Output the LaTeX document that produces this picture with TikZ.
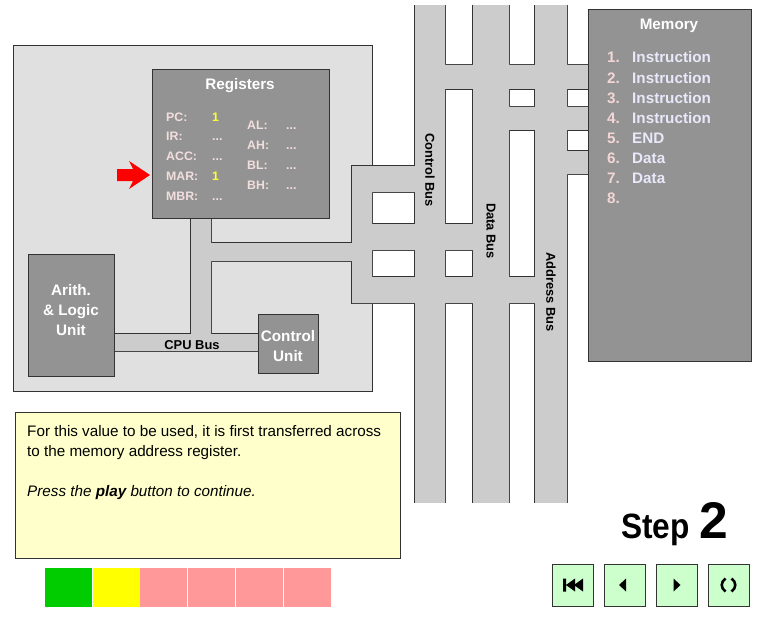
\documentclass[tikz,border=0pt]{standalone}
\usepackage{fontspec}
\setmainfont{Liberation Sans}
\usetikzlibrary{positioning}

\definecolor{cpugray}{HTML}{E0E0E0}
\definecolor{unitgray}{HTML}{939393}
\definecolor{busgray}{HTML}{CCCCCC}
\definecolor{edgegray}{HTML}{333333}
\definecolor{regtext}{HTML}{F2DEDE}
\definecolor{memnum}{HTML}{F4D6D6}
\definecolor{memtext}{HTML}{E8E8FA}
\definecolor{valyellow}{HTML}{FFFF33}
\definecolor{notefill}{HTML}{FFFFCC}
\definecolor{stepgreen}{HTML}{00CC00}
\definecolor{stepyellow}{HTML}{FFFF00}
\definecolor{steppink}{HTML}{FF9999}
\definecolor{btnfill}{HTML}{CCFFCC}

\newcommand\regdots{...}

\begin{document}
\begin{tikzpicture}[
    x=0.03cm, y=-0.03cm,
    unit/.style={draw=edgegray, fill=unitgray, inner sep=0pt},
    unitlabel/.style={text=white, font=\fontsize{13}{17}\selectfont\bfseries, align=center, inner sep=0pt},
    reglabel/.style={text=regtext, font=\fontsize{10.5}{12}\selectfont\bfseries, anchor=base west, inner sep=0pt},
    memlabel/.style={font=\fontsize{13}{15}\selectfont\bfseries, anchor=base west, inner sep=0pt},
    buslabel/.style={font=\fontsize{11}{13}\selectfont\bfseries, inner sep=0pt},
    notetext/.style={font=\fontsize{13}{17}\selectfont, anchor=base west, inner sep=0pt},
    progbox/.style={minimum width=1.41cm, minimum height=1.17cm, inner sep=0pt},
    btn/.style={draw=edgegray, fill=btnfill, minimum width=1.23cm, minimum height=1.26cm, inner sep=0pt}
]

% Page
\fill[white] (0,0) rectangle (763,620);
\useasboundingbox (0,0) rectangle (763,620);

% CPU
\node[draw=edgegray, fill=cpugray, minimum width=10.77cm, minimum height=10.38cm, inner sep=0pt] (cpu) at (192.5,218) {};

% Buses (drawn as one outlined shape)
\begin{scope}
\clip (0,6) rectangle (763,502);
\path[save path=\busunion]
    (415,0) rectangle (445,520)   % control bus
    (473,0) rectangle (509,520)   % data bus
    (535,0) rectangle (567,520)   % address bus
    (445,65) rectangle (590,89)
    (509,107) rectangle (590,130)
    (567,151) rectangle (590,174)
    (352,166) rectangle (372,303)
    (352,166) rectangle (415,192)
    (352,224) rectangle (473,250)
    (352,277) rectangle (535,303)
    (211,243) rectangle (352,261)
    (191,216) rectangle (211,351)
    (112,334) rectangle (260,351); % CPU bus
\path[use path=\busunion, draw=edgegray, line width=1.7pt];
\path[use path=\busunion, fill=busgray];
\end{scope}

\node[buslabel, rotate=-90] (ctrlbus) at (430,170) {Control Bus};
\node[buslabel, rotate=-90] (databus) at (491,231) {Data Bus};
\node[buslabel, rotate=-90] (addrbus) at (551,292) {Address Bus};
\node[buslabel] (cpubus) at (192,345) {CPU Bus};

% Units
\node[unit, minimum width=5.31cm, minimum height=4.47cm] (reg) at (240.5,143.5) {};
\node[unit, minimum width=2.58cm, minimum height=3.66cm] (alu) at (71,315) {};
\node[unit, minimum width=1.8cm, minimum height=1.77cm] (cu) at (288,343.5) {};
\node[unit, minimum width=4.89cm, minimum height=10.56cm] (mem) at (669.5,185) {};

\node[unitlabel] (alutext) at (71,310) {Arith.\\\& Logic\\Unit};
\node[unitlabel] (cutext) at (288,346) {Control\\Unit};

% Registers
\node[unitlabel, anchor=base] (regtitle) at (240,90) {Registers};
\foreach \name/\val/\col [count=\i from 0] in {PC/1/valyellow, IR/\regdots/regtext, ACC/\regdots/regtext, MAR/1/valyellow, MBR/\regdots/regtext} {
    \node[reglabel] (r\name) at (166,121+19.75*\i) {\name:};
    \node[reglabel, text=\col] (v\name) at (212,121+19.75*\i) {\val};
}
\foreach \name [count=\i from 0] in {AL, AH, BL, BH} {
    \node[reglabel] (r\name) at (247,129+20.3*\i) {\name:};
    \node[reglabel] (v\name) at (286,129+20.3*\i) {\regdots};
}

% Pointer
\fill[red] (117,169) -- (133,169) -- (129,161) -- (150,175) -- (129,189) -- (133,181) -- (117,181) -- cycle;

% Memory
\node[unitlabel, anchor=base] (memtitle) at (669,29.5) {Memory};
\foreach \entry [count=\i] in {Instruction, Instruction, Instruction, Instruction, END, Data, Data, {}} {
    \node[memlabel, text=memnum] (mnum\i) at (607,63+20.14*\i-20.14) {\i.};
    \node[memlabel, text=memtext] (mtxt\i) at (632,63+20.14*\i-20.14) {\entry};
}

% Note
\node[draw=edgegray, fill=notefill, minimum width=11.55cm, minimum height=4.38cm, inner sep=0pt] (note) at (207.5,485) {};
\node[notetext] (noteA) at (27,436) {For this value to be used, it is first transferred across};
\node[notetext] (noteB) at (27,456) {to the memory address register.};
\node[notetext] (noteC) at (27,496) {\itshape Press the \textbf{play} button to continue.};

% Progress
\foreach \col [count=\i from 0] in {stepgreen, stepyellow, steppink, steppink, steppink, steppink} {
    \node[progbox, fill=\col] (prog\i) at (68.5+47.7*\i,587.5) {};
}

% Step counter
\node[font=\fontsize{30}{30}\selectfont\bfseries, xscale=0.9, anchor=base east, inner sep=0pt] (stepword) at (690,538) {Step};
\node[font=\fontsize{44}{44}\selectfont\bfseries, anchor=base west, inner sep=0pt] (stepnum) at (699,538) {2};

% Buttons
\node[btn] (btnfirst) at (573,585) {};
\node[btn] (btnprev) at (625,585) {};
\node[btn] (btnnext) at (676.5,585) {};
\node[btn] (btnloop) at (728.5,585) {};

\fill[shift={(btnfirst.center)}] (-10,-6.5) rectangle (-7,6.5)
    (-7,0) -- (2,-6.5) -- (2,6.5) -- cycle
    (1,0) -- (10,-6.5) -- (10,6.5) -- cycle;
\fill[shift={(btnprev.center)}] (-6,0) -- (1,-6.5) -- (1,6.5) -- cycle;
\fill[shift={(btnnext.center)}] (4,0) -- (-3,-6.5) -- (-3,6.5) -- cycle;
\draw[line width=2.2pt, shift={(btnloop.center)}]
    (-3,-6.5) .. controls (-8,-3) and (-8,3) .. (-3,6.5)
    (3,-6.5) .. controls (8,-3) and (8,3) .. (3,6.5);

\end{tikzpicture}
\end{document}
